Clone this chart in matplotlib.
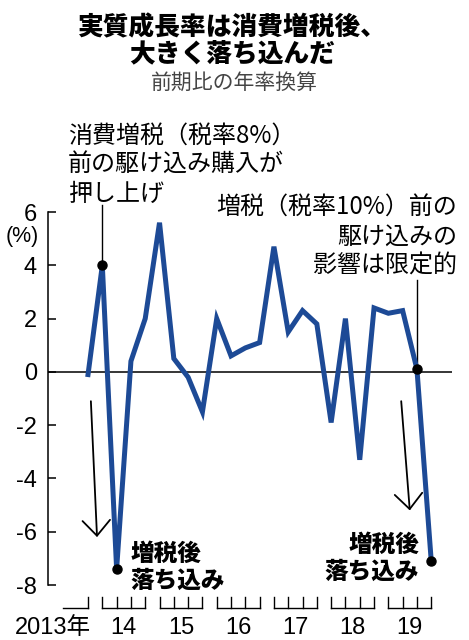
import matplotlib
matplotlib.use("Agg")
import matplotlib.pyplot as plt

plt.rcParams['font.family'] = ['Liberation Sans', 'Noto Sans CJK JP', 'DejaVu Sans']

# 2013Q4 .. 2019Q4, real GDP growth (annualized, q/q)
growth = [-0.1, 4.0, -7.4, 0.4, 2.0, 5.6, 0.5, -0.2, -1.5, 2.0, 0.6, 0.9, 1.1,
          4.7, 1.5, 2.3, 1.8, -1.9, 2.0, -3.3, 2.4, 2.2, 2.3, 0.1, -7.1]
marked = [1, 2, 23, 24]
years = ['14', '15', '16', '17', '18', '19']
yticks = [6, 4, 2, 0, -2, -4, -6, -8]
ytick_labels = ['6', '4', '2', '0', '-2', '-4', '-6', '-8']

jp = ['Noto Sans CJK JP', 'DejaVu Sans']
blue = '#1d4a96'

fig = plt.figure(figsize=(4.69, 6.40), dpi=100)
ax = fig.add_axes([0.1023, 0.0859, 0.8614, 0.5828])

x = list(range(len(growth)))
ax.plot(x, growth, color=blue, lw=3.6, solid_joinstyle='miter', zorder=3)
ax.plot([x[i] for i in marked], [growth[i] for i in marked], 'o', color='black',
        ms=6.5, zorder=4)
ax.axhline(0, color='black', lw=1.1, zorder=2)

ax.set_xlim(-2.8, 25.45)
ax.set_ylim(-8, 6)
for s in ['top', 'right', 'bottom']:
    ax.spines[s].set_visible(False)
ax.spines['left'].set_linewidth(1.1)
ax.set_xticks([])
ax.set_yticks(yticks)
ax.set_yticklabels(ytick_labels)
ax.tick_params(axis='y', direction='in', length=6, width=1.1, pad=8, labelsize=17)
ax.text(-4.6, 5.1, '(%)', fontsize=15.5, ha='center', va='center')

# year brackets under the chart
yb, yt = -8.88, -8.46
ax.plot([-1.75, 0], [yb, yb], color='black', lw=1, clip_on=False)
ax.plot([0, 0], [yb, yt], color='black', lw=1, clip_on=False)
ax.text(0.2, -9.6, '2013年', fontsize=17, ha='right', va='center')
for k, yr in enumerate(years):
    q1 = 4 * k + 1
    ax.plot([q1, q1 + 3], [yb, yb], color='black', lw=1, clip_on=False)
    for q in range(4):
        ax.plot([q1 + q, q1 + q], [yb, yt], color='black', lw=1, clip_on=False)
    ax.text(q1 + 1.5, -9.6, yr, fontsize=17, ha='center', va='center')

# callouts
ax.plot([1, 1], [4.0, 6.25], color='black', lw=1, clip_on=False, zorder=1)
ax.plot([23, 23], [0.1, 3.45], color='black', lw=1, clip_on=False, zorder=1)
ax.text(-1.4, 9.36, '消費増税（税率8%）\n前の駆け込み購入が\n押し上げ', family=jp,
        fontsize=17.3, ha='left', va='top', linespacing=1.15)
ax.text(25.8, 6.65, '増税（税率10%）前の\n駆け込みの\n影響は限定的', family=jp,
        fontsize=17.3, ha='right', va='top', linespacing=1.15, multialignment='right')
ax.text(2.94, -6.37, '増税後\n落ち込み', family=jp, fontsize=17, fontweight='black',
        ha='left', va='top', linespacing=1.1)
ax.text(23.15, -6.03, '増税後\n落ち込み', family=jp, fontsize=17, fontweight='black',
        ha='right', va='top', linespacing=1.1, multialignment='right')

arrow = dict(arrowstyle='->, head_length=0.5, head_width=0.45', color='black',
             lw=1.3, mutation_scale=22, shrinkA=0, shrinkB=0)
ax.annotate('', xy=(0.63, -6.2), xytext=(0.2, -1.1), arrowprops=arrow)
ax.annotate('', xy=(22.5, -5.2), xytext=(21.9, -1.1), arrowprops=arrow)

# titles
fig.text(0.495, 1 - 27 / 640, '実質成長率は消費増税後、', family=jp, fontsize=18.5,
         fontweight='black', ha='center', va='center')
fig.text(0.495, 1 - 53 / 640, '大きく落ち込んだ', family=jp, fontsize=18.5,
         fontweight='black', ha='center', va='center')
fig.text(0.5, 1 - 83 / 640, '前期比の年率換算', family=jp, fontsize=15,
         color='#444444', ha='center', va='center')

fig.savefig('out.png', dpi=100)
